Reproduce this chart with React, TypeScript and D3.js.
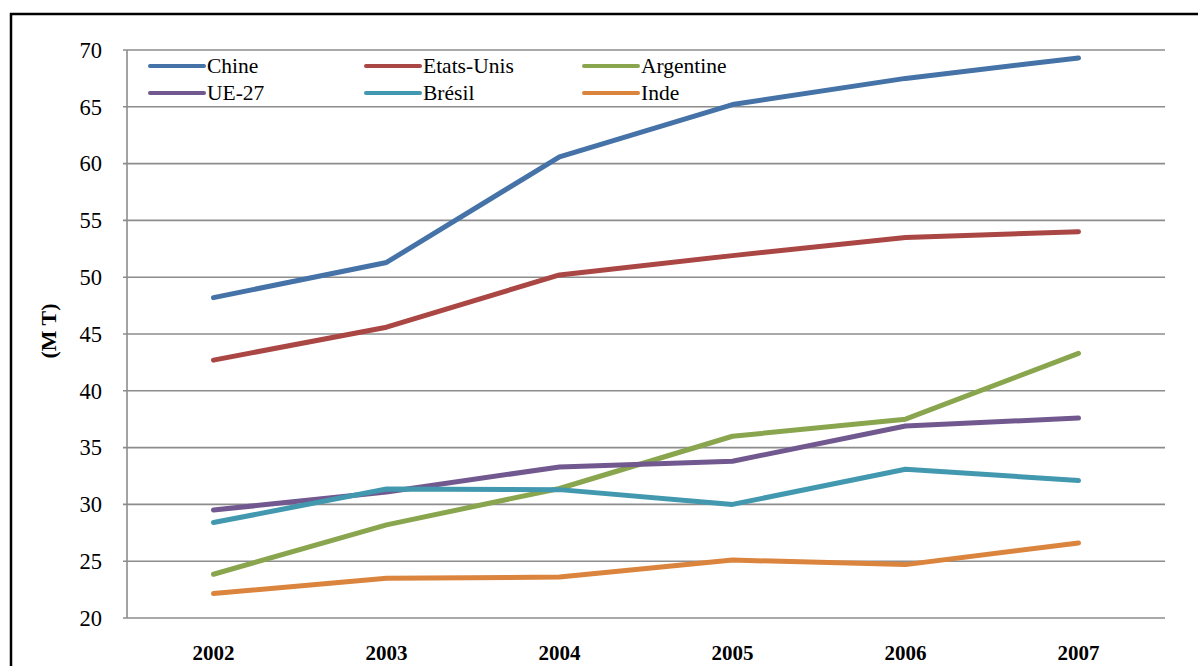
import React from "react";
import * as d3 from "d3";

const years = ["2002", "2003", "2004", "2005", "2006", "2007"];
const yTicks = [20, 25, 30, 35, 40, 45, 50, 55, 60, 65, 70];

const chine = [48.2, 51.3, 60.6, 65.2, 67.5, 69.3];
const etatsUnis = [42.7, 45.6, 50.2, 51.9, 53.5, 54.0];
const argentine = [23.85, 28.2, 31.4, 36.0, 37.5, 43.3];
const ue27 = [29.5, 31.1, 33.3, 33.8, 36.9, 37.6];
const bresil = [28.4, 31.35, 31.3, 30.0, 33.1, 32.1];
const inde = [22.15, 23.5, 23.6, 25.1, 24.7, 26.6];

const seriesNames = ["Chine", "Etats-Unis", "Argentine", "UE-27", "Brésil", "Inde"];
const seriesColors = ["#4572A7", "#AA4643", "#89A54E", "#71588F", "#4198AF", "#DB843D"];
const seriesValues = [chine, etatsUnis, argentine, ue27, bresil, inde];

const W = 1198;
const H = 666;
const plot = { left: 127, right: 1165, top: 50, bottom: 618 };
const serif = { fontFamily: '"Liberation Serif", "Times New Roman", serif' };

export default function App() {
  const x = d3
    .scaleBand<string>()
    .domain(years)
    .range([plot.left, plot.right]);
  const y = d3.scaleLinear().domain([20, 70]).range([plot.bottom, plot.top]);

  const line = d3
    .line<number>()
    .x((_, i) => (x(years[i]) as number) + x.bandwidth() / 2)
    .y((d) => y(d));

  // legend: 3 columns x 2 rows
  const legendCols = [150, 366, 584];
  const legendRows = [66, 93];

  return (
    <svg
      width={W}
      height={H}
      style={{ position: "absolute", left: 0, top: 0, background: "#fff" }}
    >
      <rect x={0} y={0} width={W} height={H} fill="#fff" />
      {/* outer frame */}
      <rect x={11} y={14} width={1300} height={800} fill="none" stroke="#000" strokeWidth={2.5} />

      {/* gridlines */}
      {yTicks.map((t) => (
        <line
          key={"g" + t}
          x1={plot.left - 4}
          x2={plot.right}
          y1={y(t)}
          y2={y(t)}
          stroke="#8c8c8c"
          strokeWidth={1.6}
        />
      ))}
      <line x1={plot.left} x2={plot.left} y1={plot.top} y2={plot.bottom} stroke="#8c8c8c" strokeWidth={1.6} />

      {/* y tick labels */}
      {yTicks.map((t) => (
        <text
          key={"t" + t}
          x={102}
          y={y(t)}
          dy="0.35em"
          textAnchor="end"
          fontSize={22.5}
          fill="#000"
          style={serif}
        >
          {t}
        </text>
      ))}

      {/* x tick labels */}
      {years.map((yr) => (
        <text
          key={yr}
          x={(x(yr) as number) + x.bandwidth() / 2}
          y={660}
          textAnchor="middle"
          fontSize={21}
          fontWeight="bold"
          fill="#000"
          style={serif}
        >
          {yr}
        </text>
      ))}

      {/* y axis title */}
      <text
        transform="translate(48,331) rotate(-90)"
        textAnchor="middle"
        dy="0.35em"
        fontSize={22}
        fontWeight="bold"
        fill="#000"
        style={serif}
      >
        (M T)
      </text>

      {/* series lines */}
      {seriesValues.map((vals, i) => (
        <path
          key={seriesNames[i]}
          d={line(vals) as string}
          fill="none"
          stroke={seriesColors[i]}
          strokeWidth={5}
          strokeLinecap="round"
          strokeLinejoin="round"
        />
      ))}

      {/* legend */}
      {seriesNames.map((name, i) => {
        const cx = legendCols[i % 3];
        const cy = legendRows[Math.floor(i / 3)];
        return (
          <g key={"l" + name}>
            <line
              x1={cx}
              x2={cx + 54}
              y1={cy}
              y2={cy}
              stroke={seriesColors[i]}
              strokeWidth={4}
              strokeLinecap="round"
            />
            <text x={cx + 57} y={cy} dy="0.33em" fontSize={21.5} fill="#000" style={serif}>
              {name}
            </text>
          </g>
        );
      })}
    </svg>
  );
}
